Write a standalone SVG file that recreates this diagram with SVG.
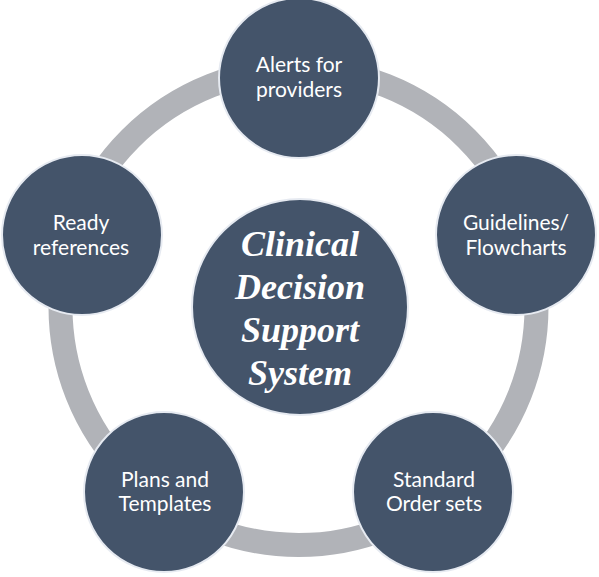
<svg xmlns="http://www.w3.org/2000/svg" width="599" height="577" viewBox="0 0 599 577">
  <style>
    .node { fill: #44546A; stroke: #E6EAF1; stroke-width: 2; }
    .lbl { font-family: Lato, "Open Sans", sans-serif; font-size: 21px; fill: #FFFFFF; text-anchor: middle; }
    .main { font-family: "Liberation Serif", "Times New Roman", serif; font-size: 36px; font-weight: bold; font-style: italic; fill: #FFFFFF; text-anchor: middle; }
  </style>
  <rect width="599" height="577" fill="#FFFFFF"/>
  <g id="connectors">
    <circle cx="298.5" cy="307" r="238" fill="none" stroke="#B1B3B8" stroke-width="24"/>
  </g>
  <g id="center">
    <circle class="node" cx="300" cy="307" r="108"/>
    <text class="main" x="300" y="256">Clinical</text>
    <text class="main" x="300" y="299">Decision</text>
    <text class="main" x="300" y="342">Support</text>
    <text class="main" x="300" y="385">System</text>
  </g>
  <g id="alerts">
    <circle class="node" cx="299" cy="78" r="80"/>
    <text class="lbl" x="299" y="72">Alerts for</text>
    <text class="lbl" x="299" y="97">providers</text>
  </g>
  <g id="guidelines">
    <circle class="node" cx="516" cy="235" r="80"/>
    <text class="lbl" x="516" y="230">Guidelines/</text>
    <text class="lbl" x="516" y="255">Flowcharts</text>
  </g>
  <g id="orders">
    <circle class="node" cx="433" cy="492" r="80"/>
    <text class="lbl" x="434" y="487">Standard</text>
    <text class="lbl" x="434" y="511">Order sets</text>
  </g>
  <g id="plans">
    <circle class="node" cx="164" cy="492" r="80"/>
    <text class="lbl" x="165" y="487">Plans and</text>
    <text class="lbl" x="165" y="511">Templates</text>
  </g>
  <g id="ready">
    <circle class="node" cx="82" cy="235" r="80"/>
    <text class="lbl" x="81" y="230">Ready</text>
    <text class="lbl" x="81" y="255">references</text>
  </g>
</svg>
